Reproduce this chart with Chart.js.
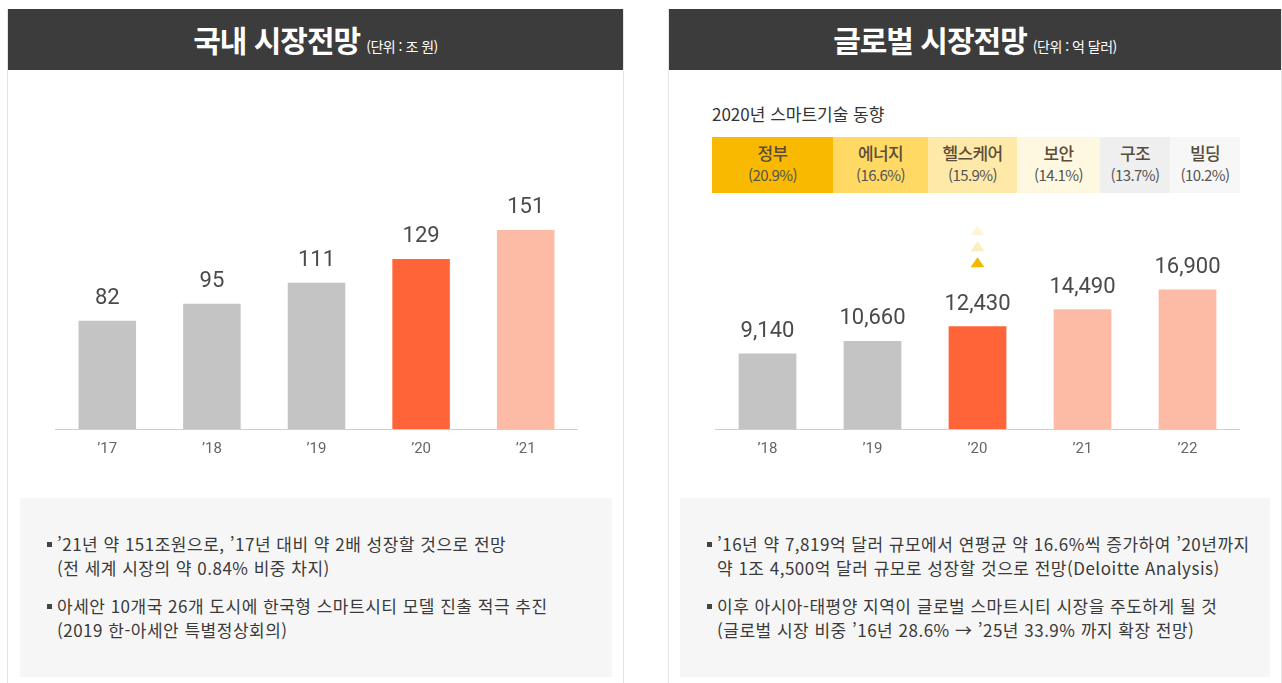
<!DOCTYPE html>
<html lang="ko">
<head>
<meta charset="utf-8">
<script src="https://cdn.jsdelivr.net/npm/chart.js@4.4.0/dist/chart.umd.min.js"></script>
<style>
    html, body { margin: 0; padding: 0; background: #fff; }
    body { width: 1282px; height: 683px; position: relative; overflow: hidden;
           font-family: "Noto Sans CJK KR", "Noto Sans", sans-serif; color: #333; }
    .panel { position: absolute; top: 9px; height: 690px; border-left: 1px solid #e6e6e6; border-right: 1px solid #e6e6e6; box-sizing: border-box; }
    .panel-head { height: 61px; background: #3c3c3c; color: #fff; text-align: center; line-height: 61px; white-space: nowrap; }
    .panel-head .big { font-size: 30px; font-weight: 700; letter-spacing: -1px; }
    .panel-head .small { font-size: 14px; letter-spacing: -0.5px; margin-left: 6px; }
    .chart-box { position: absolute; }
    .note { position: absolute; top: 498px; height: 179px; background: #f6f6f6; box-sizing: border-box; padding-top: 34px; }
    .note p { margin: 0 0 14px 0; padding-left: 37px; position: relative; font-size: 17px; line-height: 24px; letter-spacing: 0.5px; color: #3a3a3a; white-space: nowrap; }
    .note p::before { content: ''; position: absolute; left: 27px; top: 10px; width: 5px; height: 5px; background: #444; }
    .tech-title { position: absolute; left: 712px; top: 101px; font-size: 17px; letter-spacing: 0px; color: #333; }
    .tech-row { position: absolute; left: 712px; top: 137px; height: 56px; display: flex; }
    .tech-row div { height: 56px; text-align: center; font-size: 15px; line-height: 22px; padding-top: 5px; box-sizing: border-box; color: #555; letter-spacing: -0.6px; }
    .tech-row div b { display: block; font-size: 17px; font-weight: 500; color: #5a4d3a; }
</style>
</head>
<body>
<div class="panel" style="left:7px; width:617px;">
    <div class="panel-head"><span class="big">국내 시장전망</span><span class="small">(단위 : 조 원)</span></div>
</div>
<div class="panel" style="left:668px; width:614px;">
    <div class="panel-head"><span class="big">글로벌 시장전망</span><span class="small">(단위 : 억 달러)</span></div>
</div>

<div class="chart-box" style="left:55px; top:160px; width:523px; height:301px;"><canvas id="domesticChart"></canvas></div>

<div class="tech-title">2020년 스마트기술 동향</div>
<div class="tech-row" id="techRow"></div>
<div class="chart-box" style="left:715px; top:160px; width:525px; height:301px;"><canvas id="globalChart"></canvas></div>

<div class="note" style="left:20px; width:592px;">
    <p>’21년 약 151조원으로, ’17년 대비 약 2배 성장할 것으로 전망<br>(전 세계 시장의 약 0.84% 비중 차지)</p>
    <p>아세안 10개국 26개 도시에 한국형 스마트시티 모델 진출 적극 추진<br>(2019 한-아세안 특별정상회의)</p>
</div>
<div class="note" style="left:680px; width:590px;">
    <p>’16년 약 7,819억 달러 규모에서 연평균 약 16.6%씩 증가하여 ’20년까지<br>약 1조 4,500억 달러 규모로 성장할 것으로 전망(Deloitte Analysis)</p>
    <p>이후 아시아-태평양 지역이 글로벌 스마트시티 시장을 주도하게 될 것<br>(글로벌 시장 비중 ’16년 28.6% → ’25년 33.9% 까지 확장 전망)</p>
</div>

<script>
const domesticYears = ['’17', '’18', '’19', '’20', '’21'];
const domesticValues = [82, 95, 111, 129, 151];
const globalYears = ['’18', '’19', '’20', '’21', '’22'];
const globalValues = [9140, 10660, 12430, 14490, 16900];
const techNames = ['정부', '에너지', '헬스케어', '보안', '구조', '빌딩'];
const techShares = ['(20.9%)', '(16.6%)', '(15.9%)', '(14.1%)', '(13.7%)', '(10.2%)'];

const gray = '#c4c4c4';
const orange = '#ff6438';
const peach = '#fdbba6';
const techColors = ['#f9b900', '#ffd964', '#ffe9a8', '#fff8e0', '#efefef', '#f7f7f7'];
const techWidths = [121, 95, 89, 83, 70, 70];

// tech trend strip
const techRow = document.getElementById('techRow');
techNames.forEach((name, i) => {
    const cell = document.createElement('div');
    cell.style.width = techWidths[i] + 'px';
    cell.style.background = techColors[i];
    cell.innerHTML = `<b>${name}</b>${techShares[i]}`;
    techRow.appendChild(cell);
});

const valueLabels = {
    id: 'valueLabels',
    afterDatasetsDraw(chart, args, opts) {
        const { ctx } = chart;
        const meta = chart.getDatasetMeta(0);
        const values = chart.data.datasets[0].data;
        ctx.save();
        ctx.font = '22px Roboto';
        ctx.fillStyle = '#4a4a4a';
        ctx.textAlign = 'center';
        ctx.textBaseline = 'bottom';
        meta.data.forEach((bar, i) => {
            ctx.fillText(values[i].toLocaleString('en-US'), bar.x, bar.y - 11);
        });
        ctx.restore();
    }
};

// little "rising" arrows above the highlighted bar
const riseMarks = {
    id: 'riseMarks',
    afterDatasetsDraw(chart, args, opts) {
        if (opts.index == null) return;
        const { ctx } = chart;
        const bar = chart.getDatasetMeta(0).data[opts.index];
        const fills = ['#f5b800', '#fbeebd', '#fdf5da'];
        ctx.save();
        fills.forEach((c, k) => {
            const base = bar.y - 59 - k * 16;
            ctx.fillStyle = c;
            ctx.beginPath();
            ctx.moveTo(bar.x - 7, base);
            ctx.lineTo(bar.x + 7, base);
            ctx.lineTo(bar.x, base - 10);
            ctx.closePath();
            ctx.fill();
        });
        ctx.restore();
    }
};

const buildChart = (canvasId, labels, data, colors, maxY, markIndex) => {
    return new Chart(document.getElementById(canvasId), {
        type: 'bar',
        data: {
            labels,
            datasets: [{
                data,
                backgroundColor: colors,
                barPercentage: 0.55,
                categoryPercentage: 1.0
            }]
        },
        options: {
            responsive: true,
            maintainAspectRatio: false,
            animation: false,
            layout: { padding: 0 },
            plugins: {
                legend: { display: false },
                tooltip: { enabled: false },
                riseMarks: { index: markIndex }
            },
            scales: {
                x: {
                    grid: { display: false },
                    border: { color: '#cfcfcf', width: 1 },
                    ticks: { color: '#666', font: { family: 'Roboto', size: 15 }, padding: 3 }
                },
                y: { display: false, min: 0, max: maxY }
            }
        },
        plugins: [valueLabels, riseMarks]
    });
};

buildChart('domesticChart', domesticYears, domesticValues, [gray, gray, gray, orange, peach], 204, null);
buildChart('globalChart', globalYears, globalValues, [gray, gray, orange, peach, peach], 32570, 2);
</script>
</body>
</html>
